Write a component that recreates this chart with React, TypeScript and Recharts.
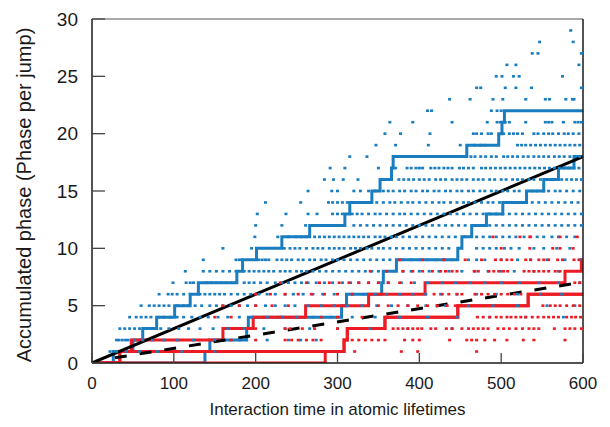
import { ComposedChart, Line, Scatter, XAxis, YAxis } from 'recharts';

const X_TICKS = [0, 100, 200, 300, 400, 500, 600];
const Y_TICKS = [0, 5, 10, 15, 20, 25, 30];

// jump times of the highlighted trajectories, every jump adds one to the phase
const blueTopJumps = [26, 50, 62, 79, 101, 120, 130, 177, 184, 201, 232, 266, 309, 315, 342, 352, 366, 368, 458, 497, 501, 504];
const blueMidJumps = [138, 144, 189, 191, 305, 311, 354, 356, 372, 447, 452, 464, 482, 502, 531, 552, 570, 589];
const redHighJumps = [34, 48, 160, 197, 261, 338, 407, 578, 598];
const redEarlyJumps = [34, 308, 312, 358, 447, 533];
const redLateJumps = [285, 308, 312, 358, 447, 533];

// fitted mean phase lines (end points)
const solidFit = [{ x: 0, y: 0 }, { x: 600, y: 18 }];
const dashedFit = [{ x: 28, y: 0.45 }, { x: 600, y: 7.05 }];

// jump instants of the ensemble, index = accumulated phase
const blueDots: number[][] = [
  [],
  [22, 26, 30, 42, 58, 80, 110, 150],
  [30, 33, 37, 41, 44, 52, 62, 74, 88, 104, 124, 150, 180, 214, 240, 255, 274],
  [34, 40, 46, 52, 58, 66, 74, 84, 94, 106, 118, 132, 148, 166, 186, 210, 236, 266, 300, 340, 386, 440],
  [46, 54, 60, 66, 72, 82, 88, 96, 104, 112, 122, 132, 142, 154, 166, 180, 196, 214, 232, 250, 270, 292, 318, 346, 376, 410, 446, 486, 530, 576],
  [60, 70, 76, 82, 88, 94, 104, 112, 118, 126, 134, 144, 152, 160, 170, 180, 190, 200, 212, 224, 236, 248, 264, 280, 296, 312, 330, 348, 366, 386, 408, 432, 460, 490, 520, 556, 590],
  [82, 93, 98, 104, 112, 120, 132, 138, 144, 150, 156, 162, 170, 178, 186, 194, 204, 214, 224, 236, 246, 258, 270, 282, 296, 318, 332, 346, 360, 376, 392, 408, 426, 446, 470, 494, 520, 548, 574],
  [99, 115, 120, 124, 140, 146, 152, 158, 164, 170, 176, 186, 192, 198, 206, 214, 224, 232, 240, 248, 256, 264, 274, 284, 294, 306, 316, 326, 338, 350, 362, 378, 394, 410, 428, 444, 462, 480, 500, 522, 546, 570, 596],
  [114, 136, 144, 152, 160, 168, 176, 186, 192, 198, 204, 210, 216, 222, 230, 236, 242, 250, 256, 262, 270, 278, 286, 294, 302, 310, 318, 326, 334, 342, 350, 380, 390, 400, 412, 424, 436, 452, 468, 484, 500, 516, 540, 570],
  [136, 176, 180, 183, 204, 208, 212, 216, 226, 232, 238, 244, 252, 258, 266, 272, 280, 286, 294, 300, 308, 316, 324, 332, 340, 348, 356, 364, 380, 390, 400, 410, 420, 430, 440, 460, 470, 480, 500, 520, 536, 556, 578, 596],
  [160, 195, 235, 242, 248, 254, 262, 270, 276, 282, 290, 296, 302, 308, 316, 322, 328, 336, 342, 350, 356, 364, 372, 380, 388, 396, 404, 412, 420, 428, 436, 470, 478, 486, 494, 504, 512, 522, 540, 552, 568, 584],
  [199, 227, 240, 250, 256, 262, 272, 278, 284, 290, 296, 302, 308, 314, 320, 326, 332, 338, 346, 352, 358, 366, 372, 380, 388, 396, 404, 412, 420, 428, 436, 444, 456, 470, 478, 486, 494, 502, 510, 518, 528, 536, 544, 552, 562, 570, 580, 590],
  [200, 232, 261, 272, 280, 288, 296, 302, 320, 328, 336, 344, 352, 360, 368, 376, 384, 392, 400, 408, 416, 424, 432, 440, 448, 456, 470, 478, 486, 494, 502, 510, 518, 526, 534, 542, 550, 558, 566, 574, 582, 590, 598],
  [202, 237, 264, 275, 294, 300, 306, 318, 324, 330, 338, 346, 352, 360, 368, 376, 382, 390, 398, 406, 414, 422, 430, 438, 446, 454, 462, 470, 478, 486, 494, 502, 510, 518, 526, 534, 542, 550, 558, 566, 574, 582, 590, 598],
  [212, 255, 289, 294, 300, 306, 312, 326, 332, 340, 348, 356, 364, 370, 378, 386, 392, 400, 408, 416, 424, 430, 438, 446, 454, 460, 468, 476, 484, 490, 498, 508, 514, 522, 530, 538, 546, 554, 562, 570, 578, 586, 594],
  [264, 293, 300, 320, 328, 338, 346, 356, 362, 368, 376, 382, 390, 396, 404, 410, 418, 424, 432, 438, 446, 452, 460, 466, 474, 480, 488, 494, 502, 508, 516, 522, 538, 544, 552, 558, 566, 572, 580, 588, 596],
  [284, 295, 307, 325, 353, 358, 364, 375, 381, 387, 393, 400, 406, 412, 420, 426, 432, 440, 446, 452, 458, 466, 472, 478, 486, 492, 500, 506, 514, 520, 526, 534, 540, 548, 556, 562, 574, 580, 586, 592, 598],
  [291, 309, 350, 367, 371, 385, 390, 396, 400, 404, 414, 419, 424, 430, 435, 440, 449, 454, 460, 466, 476, 481, 487, 493, 499, 505, 511, 517, 523, 529, 535, 541, 547, 553, 559, 565, 571, 577, 583, 589, 595],
  [315, 336, 463, 468, 475, 481, 488, 494, 503, 508, 514, 520, 527, 533, 540, 546, 552, 558, 565, 571, 577, 584, 590, 596],
  [347, 371, 411, 450, 467, 475, 480, 520, 525, 530, 536, 542, 548, 554, 560, 566, 572, 578, 584, 590, 596],
  [358, 377, 413, 466, 470, 476, 484, 488, 503, 510, 515, 520, 526, 540, 545, 552, 558, 563, 570, 577, 582, 588, 595],
  [364, 392, 440, 483, 495, 499, 505, 510, 530, 554, 558, 562, 576, 590, 594, 598],
  [410, 415, 488, 495, 500],
  [437, 462, 490, 502, 530, 554, 559, 579, 587, 589],
  [470, 475, 505, 518, 537, 598],
  [494, 501, 515, 522, 575],
  [507, 518, 595],
  [538, 545, 598],
  [547, 588],
  [585],
];

const redDots: number[][] = [
  [],
  [236, 246, 256, 321, 378, 398, 470],
  [170, 200, 236, 244, 252, 262, 270, 280, 318, 326, 334, 342, 350, 358, 382, 392, 400, 437, 458, 464, 470, 480, 492, 507, 527, 540, 578],
  [200, 236, 242, 257, 272, 300, 314, 368, 374, 380, 386, 392, 398, 403, 414, 420, 433, 440, 452, 460, 466, 472, 478, 484, 496, 503, 510, 518, 526, 534, 540, 546, 565, 578, 584, 590, 598],
  [150, 170, 210, 230, 280, 300, 330, 471, 478, 486, 494, 500, 507, 512, 518, 524, 530, 538, 545, 552, 558, 564, 570, 580, 586, 591, 597],
  [160, 180, 200, 220, 240, 350, 362, 374, 386, 398, 410, 422, 434, 444, 551, 560, 566, 572, 580, 588, 596],
  [200, 218, 236, 252, 268, 284, 300, 318, 418, 428, 436, 446, 452, 468, 476, 484, 492, 500, 508, 516, 524],
  [230, 262, 278, 290, 302, 314, 326, 338, 350, 362, 376, 390, 590, 596],
  [340, 360, 380, 392, 404, 416, 426, 432, 440, 446, 467, 472, 485, 491, 497, 503, 508, 528, 534, 540, 546, 552, 558, 566, 572],
  [376, 404, 430, 456, 476, 493, 500, 507, 513, 530, 536, 546, 552, 558, 569, 575, 589, 595],
  [500, 535, 563, 572, 588],
  [490, 523, 535, 572, 593],
];

const BLUE = '#1a7dc0';
const RED = '#ed1c24';
const INK = '#1a1a1a';
const FONT = '"Liberation Sans", Arial, sans-serif';

const toSteps = (jumps: number[]) => [
  { x: 0, y: 0 },
  ...jumps.map((t, i) => ({ x: t, y: i + 1 })),
  { x: 600, y: jumps.length },
];

const toPoints = (rows: number[][]) =>
  rows.flatMap((xs, level) => xs.map((x) => ({ x, y: level })));

const blueTrajectories = [blueTopJumps, blueMidJumps].map(toSteps);
const redTrajectories = [redHighJumps, redEarlyJumps, redLateJumps].map(toSteps);
const bluePoints = toPoints(blueDots);
const redPoints = toPoints(redDots);

const dotShape = (color: string) => (props: any) => (
  <rect x={props.cx - 1.5} y={props.cy - 1.3} width={3} height={2.6} fill={color} />
);

function BottomTick({ x, y, payload }: any) {
  return (
    <g>
      <line x1={x} x2={x} y1={y} y2={y - 10} stroke="#444" strokeWidth={1.3} />
      <text x={x} y={y + 26} textAnchor="middle" fontSize={17} fontFamily={FONT} fill={INK}>
        {payload.value}
      </text>
    </g>
  );
}

function LeftTick({ x, y, payload }: any) {
  return (
    <g>
      <line x1={x} x2={x + 13} y1={y} y2={y} stroke="#444" strokeWidth={1.3} />
      <text x={x - 14} y={y + 6.5} textAnchor="end" fontSize={19} fontFamily={FONT} fill={INK}>
        {payload.value}
      </text>
    </g>
  );
}

function TopTick({ x, y }: any) {
  return <line x1={x} x2={x} y1={y} y2={y + 3} stroke="#444" strokeWidth={1.3} />;
}

function RightTick({ x, y }: any) {
  return <line x1={x} x2={x - 3} y1={y} y2={y} stroke="#444" strokeWidth={1.3} />;
}

export default function App() {
  return (
    <div style={{ position: 'relative', width: 610, height: 427, background: '#fff', fontFamily: FONT }}>
      <style>{'body{margin:0}'}</style>
      <ComposedChart width={610} height={427} margin={{ top: 18, right: 26, bottom: 24, left: 0 }}>
        <XAxis
          dataKey="x"
          type="number"
          domain={[0, 600]}
          ticks={X_TICKS}
          interval={0}
          allowDataOverflow
          height={40}
          tickSize={0}
          tickMargin={0}
          tick={<BottomTick />}
          axisLine={{ stroke: INK, strokeWidth: 1.5 }}
        />
        <XAxis
          xAxisId="top"
          orientation="top"
          type="number"
          domain={[0, 600]}
          ticks={X_TICKS}
          interval={0}
          height={1}
          tickSize={0}
          tickMargin={0}
          tick={<TopTick />}
          axisLine={{ stroke: '#555', strokeWidth: 1.2 }}
        />
        <YAxis
          dataKey="y"
          type="number"
          domain={[0, 30]}
          ticks={Y_TICKS}
          interval={0}
          allowDataOverflow
          width={92}
          tickSize={0}
          tickMargin={0}
          tick={<LeftTick />}
          axisLine={{ stroke: INK, strokeWidth: 1.5 }}
        />
        <YAxis
          yAxisId="right"
          orientation="right"
          type="number"
          domain={[0, 30]}
          ticks={Y_TICKS}
          interval={0}
          width={1}
          tickSize={0}
          tickMargin={0}
          tick={<RightTick />}
          axisLine={{ stroke: INK, strokeWidth: 1.5 }}
        />
        <Scatter data={bluePoints} dataKey="y" shape={dotShape(BLUE)} isAnimationActive={false} />
        <Scatter data={redPoints} dataKey="y" shape={dotShape(RED)} isAnimationActive={false} />
        {blueTrajectories.map((d, i) => (
          <Line
            key={`b${i}`}
            data={d}
            dataKey="y"
            type="stepAfter"
            stroke={BLUE}
            strokeWidth={3}
            dot={false}
            activeDot={false}
            isAnimationActive={false}
          />
        ))}
        {redTrajectories.map((d, i) => (
          <Line
            key={`r${i}`}
            data={d}
            dataKey="y"
            type="stepAfter"
            stroke={RED}
            strokeWidth={3}
            dot={false}
            activeDot={false}
            isAnimationActive={false}
          />
        ))}
        <Line data={solidFit} dataKey="y" type="linear" stroke="#000" strokeWidth={3} dot={false} activeDot={false} isAnimationActive={false} />
        <Line
          data={dashedFit}
          dataKey="y"
          type="linear"
          stroke="#000"
          strokeWidth={3}
          strokeDasharray="12 13"
          dot={false}
          activeDot={false}
          isAnimationActive={false}
        />
      </ComposedChart>
      <div style={{ position: 'absolute', left: 92, width: 491, top: 400, textAlign: 'center', fontSize: 17, color: INK }}>
        Interaction time in atomic lifetimes
      </div>
      <div
        style={{
          position: 'absolute',
          left: 24,
          top: 195,
          transform: 'translate(-50%, -50%) rotate(-90deg)',
          whiteSpace: 'nowrap',
          fontSize: 20,
          color: INK,
        }}
      >
        Accumulated phase (Phase per jump)
      </div>
    </div>
  );
}
